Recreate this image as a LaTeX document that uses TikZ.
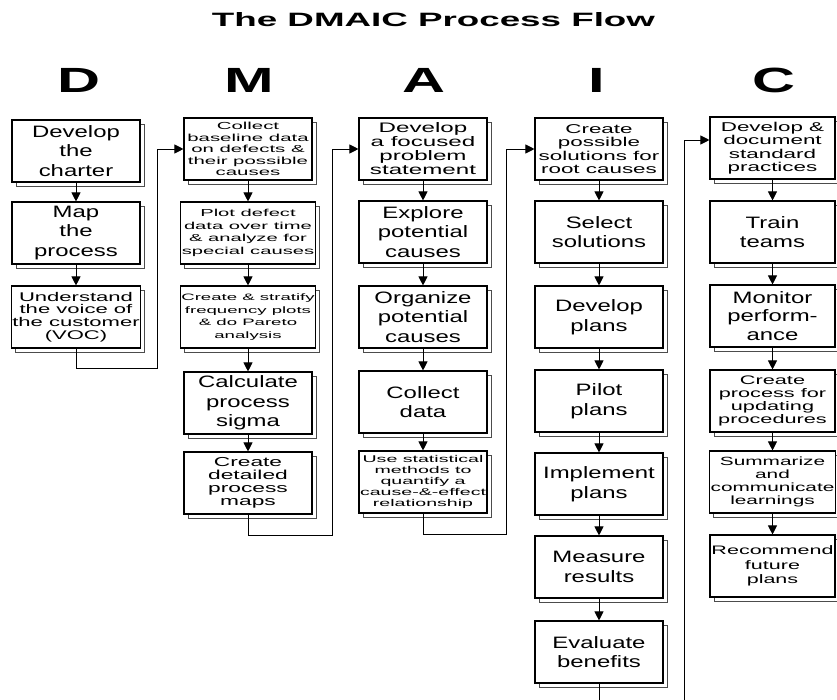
\documentclass[tikz,border=0pt]{standalone}
\usepackage{fontspec}
\usepackage{graphicx}
\setmainfont{Liberation Sans}[FakeStretch=1.45]
\newfontfamily\fmed{Liberation Sans}[FakeStretch=1.75]
\newfontfamily\fsmall{Liberation Sans}[FakeStretch=2.0]
\newfontfamily\fletter{Liberation Sans}[FakeStretch=1.7]
\usetikzlibrary{shadows,arrows.meta,calc}
\begin{document}
\begin{tikzpicture}[x=1pt,y=-1pt,
  box/.style={draw=black, line width=1.1pt, fill=white, minimum width=128pt,
    minimum height=62pt, inner sep=1pt, align=center,
    general shadow={shadow xshift=4pt, shadow yshift=-4pt, draw=black!70, fill=white, line width=0.7pt}},
  cbox/.style={box, minimum width=125pt},
  big/.style={font=\fontsize{16.5}{19.5}\selectfont},
  flow/.style={line width=0.9pt, -{Triangle[length=9pt,width=9pt]}},
  letter/.style={anchor=base, font=\fletter\bfseries\fontsize{35}{35}\selectfont}
]
\useasboundingbox (0,0) rectangle (837,700);
\fill[white] (0,0) rectangle (837,700);

% title and letters
\node[anchor=base] (title) at (433.5,27) {\resizebox{443pt}{14pt}{\bfseries The DMAIC Process Flow}};
\node[letter] (LD) at (79,93) {D};
\node[letter] (LM) at (249,93) {M};
\node[letter] (LA) at (423.5,93) {A};
\node[letter] (LI) at (596.5,93) {I};
\node[letter] (LC) at (773.5,93) {C};

% D column
\node[box,big] (D1) at (76,151) {Develop\\the\\charter};
\node[box,big] (D2) at (76,233) {Map\\the\\process};
\node[box,font=\fmed\fontsize{12.6}{12.8}\selectfont] (D3) at (76,317) {Understand\\the voice of\\the customer\\(VOC)};

% M column
\node[box,font=\fsmall\fontsize{10.2}{11.5}\selectfont] (M1) at (248,149) {Collect\\baseline data\\on defects \&\\their possible\\causes};
\node[box,font=\fsmall\fontsize{10.1}{12.7}\selectfont] (M2) at (248,233) {Plot defect\\data over time\\\& analyze for\\special causes};
\node[box,font=\fsmall\fontsize{9.3}{12.8}\selectfont] (M3) at (248,317) {Create \& stratify\\frequency plots\\\& do Pareto\\analysis};
\node[box,big] (M4) at (248,403) {Calculate\\process\\sigma};
\node[box,font=\fmed\fontsize{13}{13}\selectfont] (M5) at (248,483) {Create\\detailed\\process\\maps};

% A column
\node[box,font=\fmed\fontsize{13.8}{14}\selectfont] (A1) at (423,149) {Develop\\a focused\\problem\\statement};
\node[box,big] (A2) at (423,232) {Explore\\potential\\causes};
\node[box,big] (A3) at (423,317) {Organize\\potential\\causes};
\node[box,big] (A4) at (423,402) {Collect\\data};
\node[box,font=\fsmall\fontsize{9.8}{11.1}\selectfont] (A5) at (423,482) {Use statistical\\methods to\\quantify a\\cause-\&-effect\\relationship};

% I column
\node[box,font=\fmed\fontsize{12.8}{13.3}\selectfont] (I1) at (599,149) {Create\\possible\\solutions for\\root causes};
\node[box,big] (I2) at (599,232) {Select\\solutions};
\node[box,big] (I3) at (599,317) {Develop\\plans};
\node[box,big] (I4) at (599,401) {Pilot\\plans};
\node[box,big] (I5) at (599,484) {Implement\\plans};
\node[box,big] (I6) at (599,567) {Measure\\results};
\node[box,big] (I7) at (599,652) {Evaluate\\benefits};

% C column
\node[cbox,font=\fmed\fontsize{12.8}{13.5}\selectfont] (C1) at (772.5,148) {Develop \&\\document\\standard\\practices};
\node[cbox,big] (C2) at (772.5,232) {Train\\teams};
\node[cbox,font=\fontsize{16.5}{18.5}\selectfont] (C3) at (772.5,316) {Monitor\\perform-\\ance};
\node[cbox,font=\fmed\fontsize{12.4}{13}\selectfont] (C4) at (772.5,401) {Create\\process for\\updating\\procedures};
\node[cbox,font=\fmed\fontsize{11.9}{13.1}\selectfont] (C5) at (772.5,482) {Summarize\\and\\communicate\\learnings};
\node[cbox,font=\fmed\fontsize{12.3}{14.5}\selectfont] (C6) at (772.5,566) {Recommend\\future\\plans};

% arrows within columns
\foreach \a/\b in {D1/D2,D2/D3,M1/M2,M2/M3,M3/M4,M4/M5,A1/A2,A2/A3,A3/A4,A4/A5,
  I1/I2,I2/I3,I3/I4,I4/I5,I5/I6,I6/I7,C1/C2,C2/C3,C3/C4,C4/C5,C5/C6}
  \draw[flow] (\a) -- (\b);

% connectors between columns
\draw[flow] (D3.south) -- ++(0,20) -| ($(M1.west)+(-26,0)$) -- (M1.west);
\draw[flow] (M5.south) -- ++(0,21) -| ($(A1.west)+(-26,0)$) -- (A1.west);
\draw[flow] (A5.south) -- ++(0,21) -| ($(I1.west)+(-28,0)$) -- (I1.west);
\begin{scope}
\clip (0,0) rectangle (837,700);
\draw[flow] (I7.south) -- ++(0,40) -| ($(C1.west)+(-25,-8)$) -- ($(C1.west)+(0,-8)$);
\end{scope}
\end{tikzpicture}
\end{document}
